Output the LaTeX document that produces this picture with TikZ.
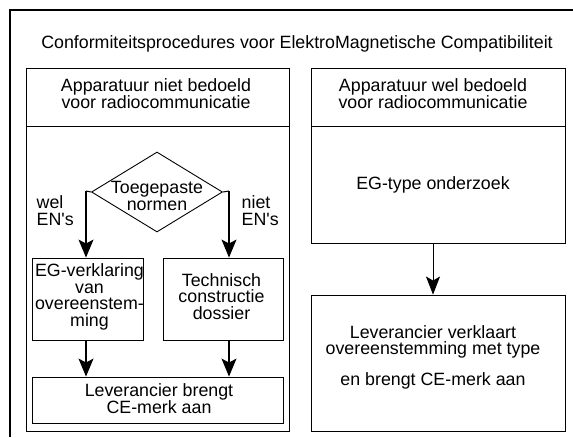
\documentclass[tikz,border=0pt]{standalone}
\usepackage{fontspec}
\setmainfont{Liberation Sans}
\usetikzlibrary{shapes.geometric,arrows.meta}
\begin{document}
\begin{tikzpicture}[x=1pt,y=-1pt,
  txt/.style={font=\fontsize{17.8}{16.6}\selectfont, align=center, inner sep=0pt},
  panel/.style={draw, line width=1pt},
  boxr/.style={draw, line width=0.9pt, inner sep=0pt},
  arr/.style={line width=1.1pt, -{Stealth[length=18pt,width=15pt,inset=4pt]}},
  thinarr/.style={line width=0.8pt, -{Stealth[length=18pt,width=14pt,inset=4pt]}}]
\useasboundingbox (0,0) rectangle (573,437);
% outer frame (left and top only)
\draw[line width=2pt] (573,10) -- (10,10) -- (10,437);
\node[txt, anchor=base] (title) at (297,48.5) {Conformiteitsprocedures voor ElektroMagnetische Compatibiliteit};
% left panel
\draw[panel] (26,68) rectangle (289,431);
\draw[panel] (26,126) -- (289,126);
\node[txt] (lhead) at (156,93.5) {Apparatuur niet bedoeld\\voor radiocommunicatie};
% right panel
\draw[panel] (311,68) rectangle (565,243);
\draw[panel] (311,126) -- (565,126);
\node[txt] (rhead) at (433,93.5) {Apparatuur wel bedoeld\\voor radiocommunicatie};
\node[txt, anchor=base] (egtype) at (433,189) {EG-type onderzoek};
\coordinate (rtopbot) at (433,243);
\node[boxr, minimum width=254pt, minimum height=136pt] (lev2) at (438,363) {};
\node[txt] (lev2a) at (433,342) {Leverancier verklaart\\overeenstemming met type};
\node[txt, anchor=base] (lev2b) at (433,385) {en brengt CE-merk aan};
\draw[thinarr] (rtopbot) -- (lev2.north -| rtopbot);
% diamond
\node[draw, diamond, line width=0.9pt, minimum width=131pt, minimum height=80pt, inner sep=0pt, aspect=1.64] (dia) at (157,192) {};
\node[txt] (diatext) at (157,196) {Toegepaste\\normen};
\coordinate (lc) at (86,191);
\coordinate (rc) at (229,191);
\node[boxr, minimum width=111pt, minimum height=82pt] (egv) at (87.5,299) {};
\node[txt] (egvt) at (89.5,297) {EG-verklaring\\van\\overeenstem-\\ming};
\node[boxr, minimum width=120pt, minimum height=82pt] (tcd) at (223,299) {};
\node[txt] (tcdt) at (221.5,296.5) {Technisch\\constructie\\dossier};
\node[boxr, minimum width=251pt, minimum height=46pt] (lev1) at (157.5,400) {};
\node[txt] (lev1t) at (159,398.5) {Leverancier brengt\\CE-merk aan};
\draw[line width=1pt] (dia.west) -- (lc);
\draw[line width=1pt] (dia.east) -- (rc);
\draw[arr] (lc) -- (lc |- egv.north);
\draw[arr] (rc) -- (rc |- tcd.north);
\draw[arr] (lc |- egv.south) -- (lc |- lev1.north);
\draw[arr] (rc |- tcd.south) -- (rc |- lev1.north);
\node[txt, align=left, anchor=base west] (wel) at (36.5,208) {wel};
\node[txt, align=left, anchor=base west] (welen) at (36.5,225) {EN\textquotesingle s};
\node[txt, align=left, anchor=base west] (niet) at (241.5,208) {niet};
\node[txt, align=left, anchor=base west] (nieten) at (241.5,225) {EN\textquotesingle s};
\end{tikzpicture}
\end{document}
